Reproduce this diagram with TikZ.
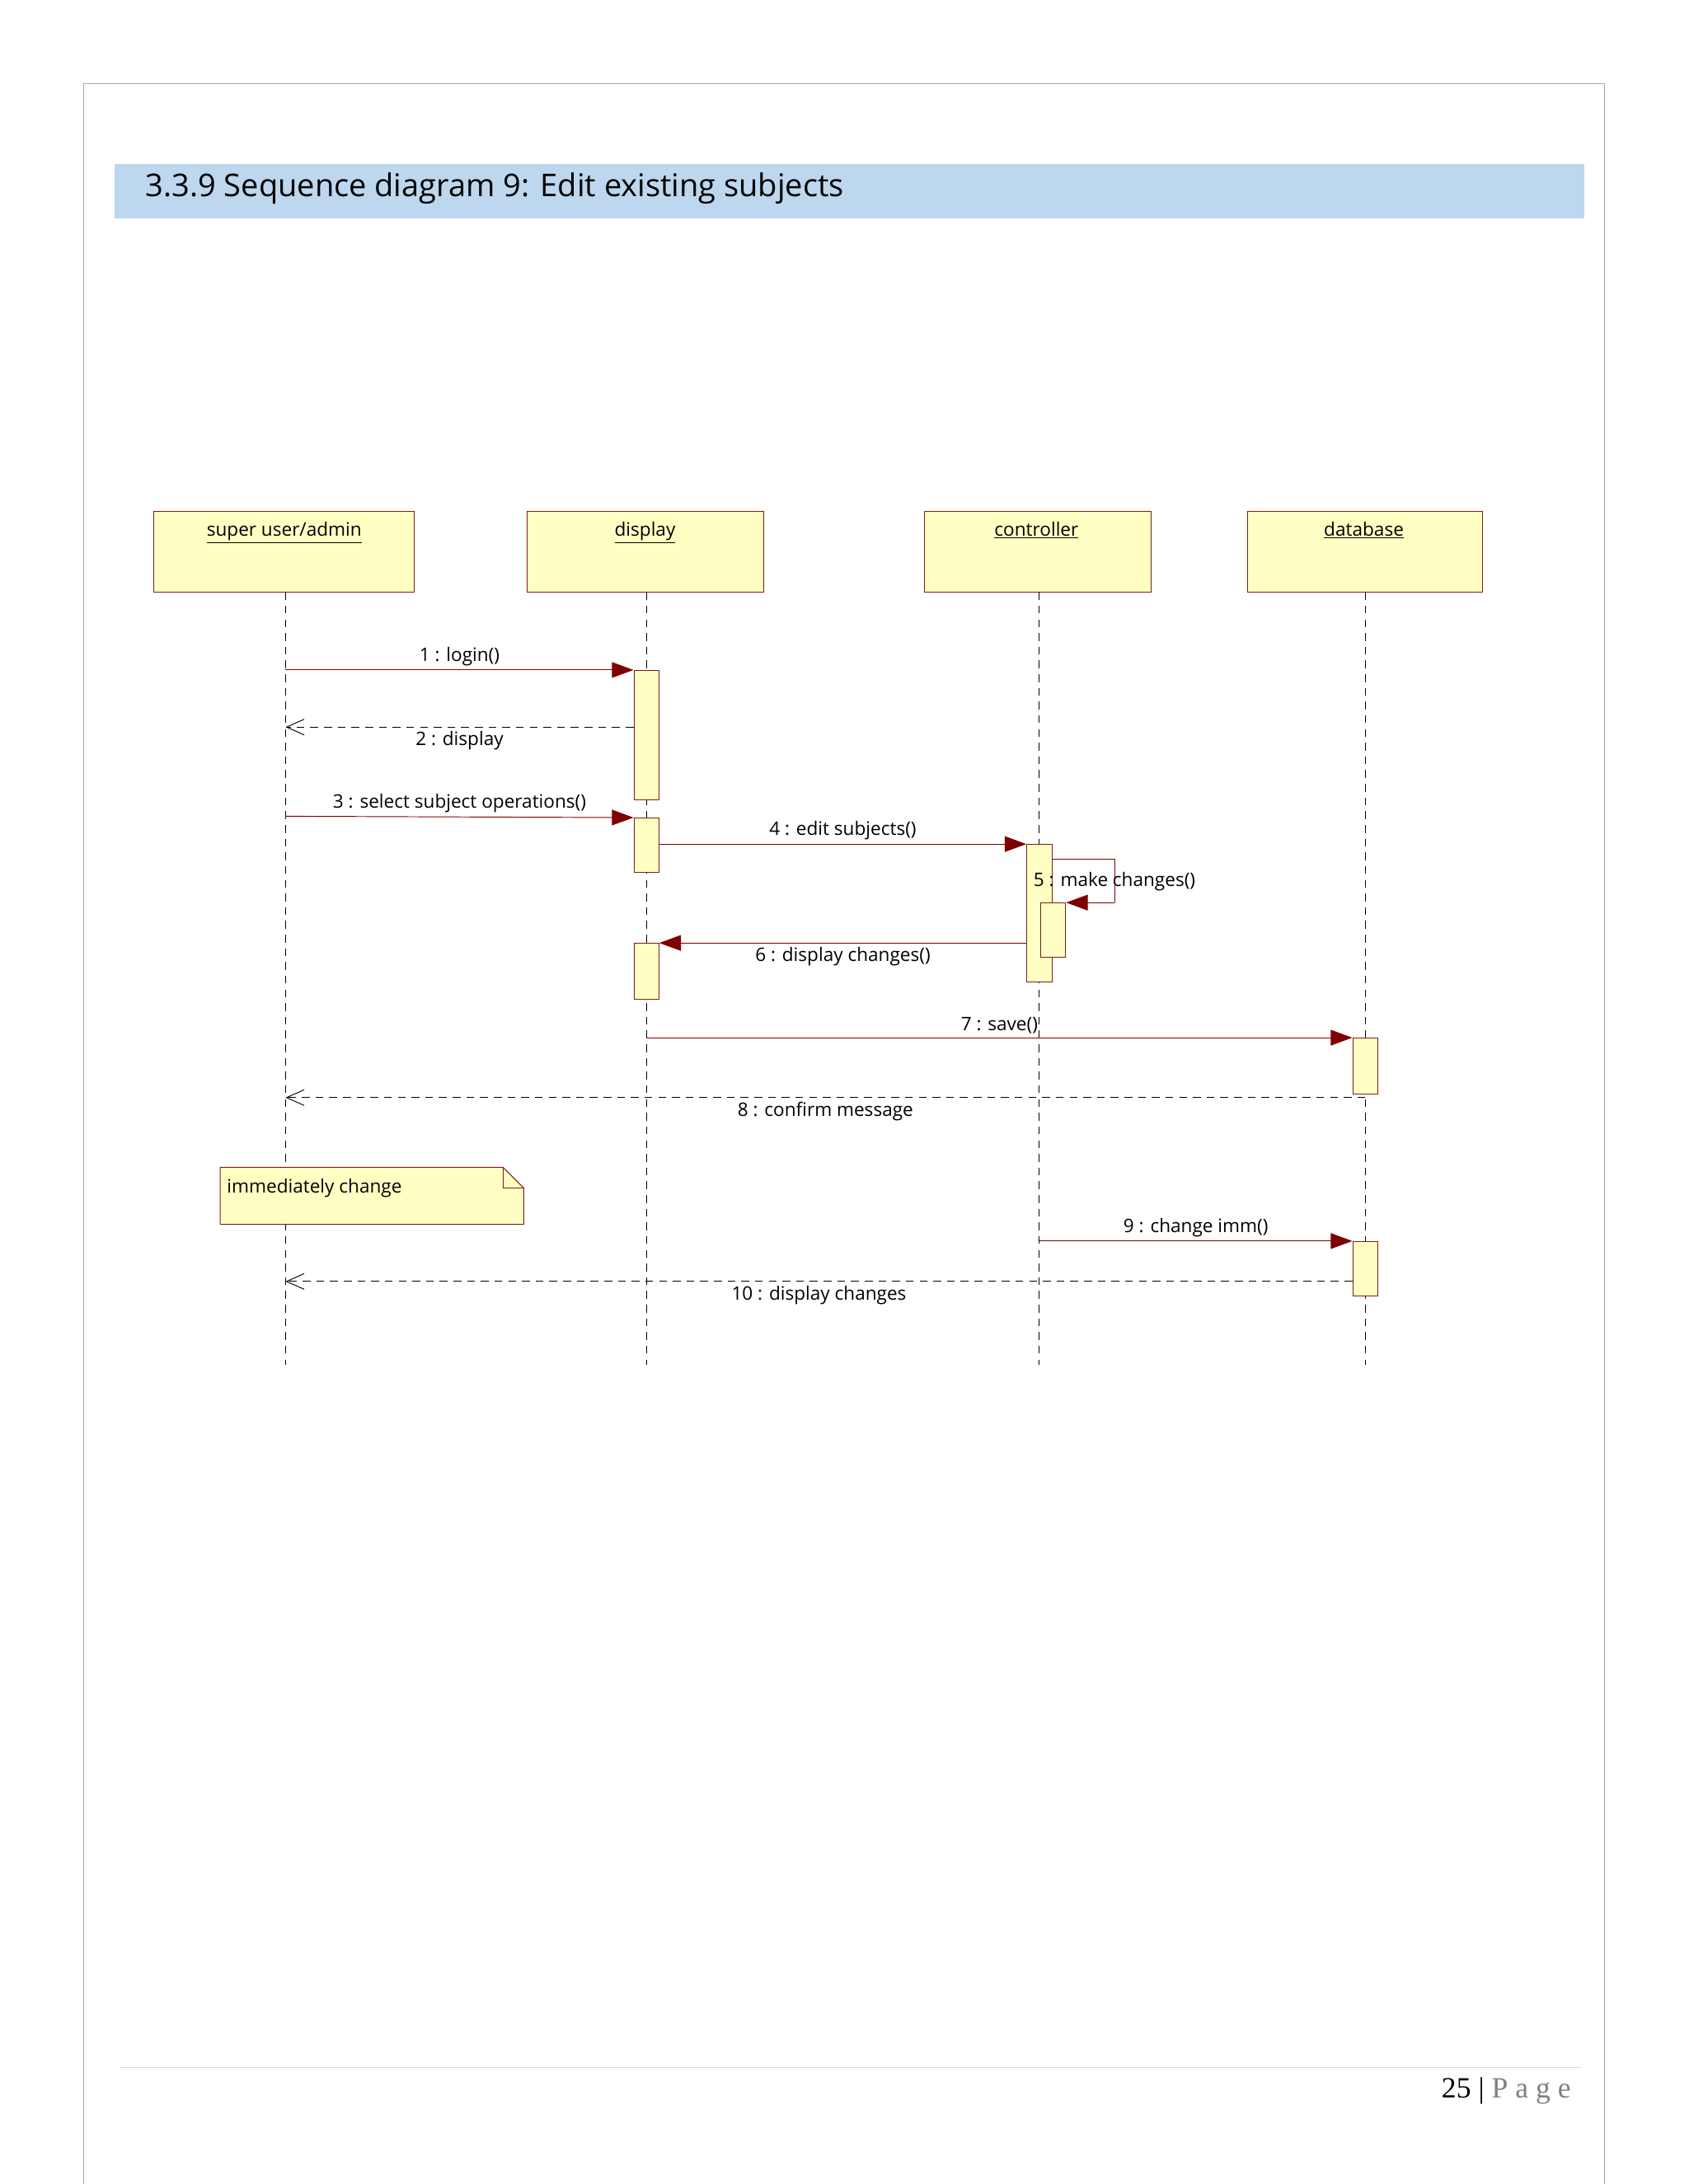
\documentclass[tikz,border=0pt]{standalone}
\usepackage{fontspec}
\setmainfont{Open Sans}
\usetikzlibrary{arrows.meta,shapes.misc}
\definecolor{umlfill}{HTML}{FFFFC4}
\definecolor{umlline}{HTML}{7A1F12}
\definecolor{msgred}{HTML}{7F0000}
\definecolor{band}{HTML}{BDD7EE}
\tikzset{
  head/.style={draw=umlline, fill=umlfill, thick, anchor=north west, inner sep=6pt},
  act/.style={draw=umlline, fill=umlfill, thick, minimum width=0.9cm, inner sep=0pt, anchor=north},
  lifeline/.style={black, thick, dash pattern=on 8pt off 6pt},
  call/.style={msgred, thick, -{Triangle[length=22pt,width=16pt]}},
  reply/.style={black, thick, dash pattern=on 8pt off 6pt, -{Straight Barb[length=18pt,width=16pt]}},
  lbl/.style={black, font=\fontsize{19}{22}\selectfont, inner sep=4pt},
}
\begin{document}
\begin{tikzpicture}[x=0.05cm,y=-0.05cm]
\useasboundingbox (0,0) rectangle (1212,1568);
% page
\draw[gray!70, thick] (60,1568) -- (60,60) -- (1152,60) -- (1152,1568);
\fill[band] (82,118) rectangle (1137,157);
\node[anchor=west, font=\fontsize{32}{36}\selectfont] (title) at (102,135) {3.3.9 Sequence diagram 9: Edit existing subjects};
\draw[gray!30, thick] (86,1484) -- (1135,1484);
\node[anchor=east, font=\fontsize{30}{34}\selectfont\rmfamily] (page) at (1130,1501)
  {\fontspec{Liberation Serif}25 | \textcolor{gray}{P a g e}};
% heads
\node[head, minimum width=9.35cm, minimum height=2.9cm] (admin) at (110,367) {};
\node[head, minimum width=8.5cm, minimum height=2.9cm] (disp) at (378,367) {};
\node[head, minimum width=8.15cm, minimum height=2.9cm] (ctrl) at (663,367) {};
\node[head, minimum width=8.45cm, minimum height=2.9cm] (db) at (895,367) {};
\foreach \n/\t/\x in {admin/super user\slash admin/204, disp/display/463, ctrl/controller/744, db/database/979}
  \node[lbl, anchor=north] (\n-t) at (\x,372) {\underline{\t}};
% lifelines
\foreach \n/\x in {admin/205, disp/464, ctrl/746, db/980}{
  \coordinate (\n-top) at (\x,425);
  \coordinate (\n-end) at (\x,980);
  \draw[lifeline] (\n-top) -- (\n-end);
}
% activations
\node[act, minimum height=4.65cm] (a1) at (464,481) {};
\node[act, minimum height=1.95cm] (a2) at (464,587) {};
\node[act, minimum height=4.95cm] (a3) at (746,606) {};
\node[act, minimum height=1.95cm] (a4) at (756,648) {};
\node[act, minimum height=2cm] (a5) at (464,677) {};
\node[act, minimum height=2cm] (a6) at (980,745) {};
\node[act, minimum height=1.95cm] (a7) at (980,891) {};
% note
\draw[umlline, thick, fill=umlfill] (158,838) -- (361,838) -- (376,853) -- (376,879) -- (158,879) -- cycle;
\draw[umlline, thick] (361,838) -- (361,853) -- (376,853);
\node[lbl, anchor=west] (note) at (160,853) {immediately change};
% messages
\coordinate (m1) at (205,481);
\draw[call] (m1) -- (a1.north west) node[lbl, midway, above] {1 : login()};
\coordinate (m2) at (205,522);
\draw[reply] (a1.west |- m2) -- (m2) node[lbl, midway, below] {2 : display};
\coordinate (m3) at (205,586);
\draw[call] (m3) -- (a2.north west) node[lbl, midway, above] {3 : select subject operations()};
\draw[call] (a2.east |- a3.north) -- (a3.north west) node[lbl, midway, above] {4 : edit subjects()};
\coordinate (s1) at (800,617);
\coordinate (s2) at (800,648);
\draw[msgred, thick] (a3.east |- s1) -- (s1) -- (s2);
\draw[call] (s2) -- (a4.north east);
\node[lbl, anchor=west] (m5) at (739,633) {5 : make changes()};
\draw[call] (a3.west |- a5.north) -- (a5.north east) node[lbl, midway, below] {6 : display changes()};
\coordinate (m7) at (464,745);
\draw[call] (m7) -- (a6.north west) node[lbl, pos=0.5, above] {7 : save()};
\coordinate (m8) at (205,788);
\draw[reply] (db-top |- m8) -- (m8) node[lbl, pos=0.5, below] {8 : confirm message};
\coordinate (m9) at (746,891);
\draw[call] (m9) -- (a7.north west) node[lbl, midway, above] {9 : change imm()};
\coordinate (m10) at (205,920);
\draw[reply] (a7.west |- m10) -- (m10) node[lbl, pos=0.5, below] {10 : display changes};
\end{tikzpicture}
\end{document}
